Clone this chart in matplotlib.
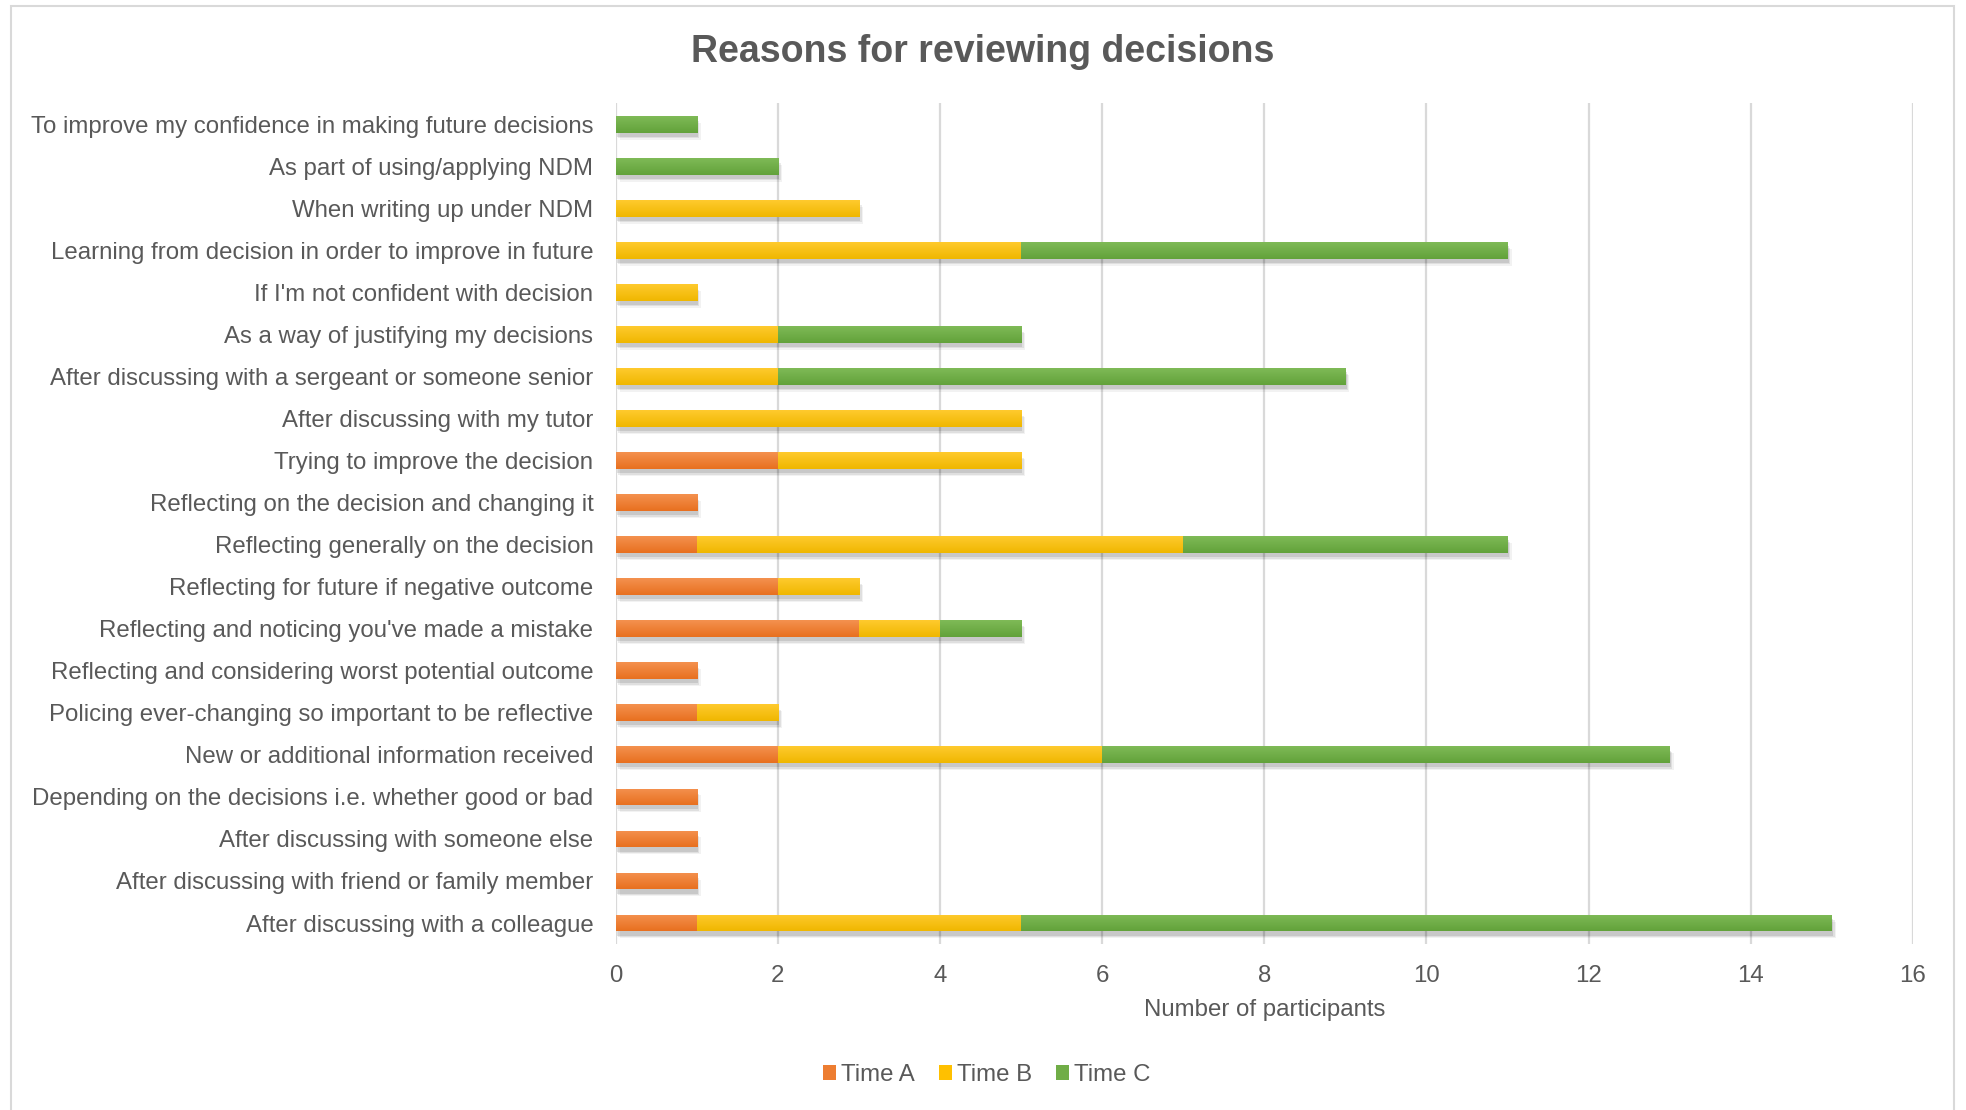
import matplotlib
matplotlib.use('Agg')
import matplotlib.pyplot as plt
import matplotlib.patheffects as pe
from matplotlib.patches import Rectangle, Patch
from matplotlib.colors import LinearSegmentedColormap
import numpy as np

plt.rcParams['font.family'] = ['Liberation Sans', 'DejaVu Sans']

# categories listed bottom to top
reasons = [
    "After discussing with a colleague",
    "After discussing with friend or family member",
    "After discussing with someone else",
    "Depending on the decisions i.e. whether good or bad",
    "New or additional information received",
    "Policing ever-changing so important to be reflective",
    "Reflecting and considering worst potential outcome",
    "Reflecting and noticing you've made a mistake",
    "Reflecting for future if negative outcome",
    "Reflecting generally on the decision",
    "Reflecting on the decision and changing it",
    "Trying to improve the decision",
    "After discussing with my tutor",
    "After discussing with a sergeant or someone senior",
    "As a way of justifying my decisions",
    "If I'm not confident with decision",
    "Learning from decision in order to improve in future",
    "When writing up under NDM",
    "As part of using/applying NDM",
    "To improve my confidence in making future decisions",
]
time_a = [1, 1, 1, 1, 2, 1, 1, 3, 2, 1, 1, 2, 0, 0, 0, 0, 0, 0, 0, 0]
time_b = [4, 0, 0, 0, 4, 1, 0, 1, 1, 6, 0, 3, 5, 2, 2, 1, 5, 3, 0, 0]
time_c = [10, 0, 0, 0, 7, 0, 0, 1, 0, 4, 0, 0, 0, 7, 3, 0, 6, 0, 2, 1]

# name, flat colour, gradient top, gradient bottom
series = [("Time A", time_a, "#ED7D31", "#F4914F", "#E8701F"),
          ("Time B", time_b, "#FFC000", "#FFCA2E", "#EFB700"),
          ("Time C", time_c, "#70AD47", "#7FBA57", "#62A23A")]

txt = "#595959"
grid = "#d9d9d9"
fs = 17.3

fig = plt.figure(figsize=(19.66, 11.10), dpi=100)
ax = fig.add_axes([0.3131, 0.1495, 0.9730 - 0.3131, 0.907 - 0.1495])

# soft drop shadow under each bar segment
shadow = [pe.SimplePatchShadow(offset=(3, -5), shadow_rgbFace='#000000', alpha=0.05),
          pe.SimplePatchShadow(offset=(2, -4), shadow_rgbFace='#000000', alpha=0.08),
          pe.SimplePatchShadow(offset=(1, -3), shadow_rgbFace='#000000', alpha=0.10),
          pe.Normal()]

grad = np.linspace(0, 1, 64).reshape(-1, 1)
h = 0.4
y = np.arange(len(reasons))
left = np.zeros(len(reasons))
for name, vals, col, top, bot in series:
    vals = np.array(vals, dtype=float)
    mask = vals > 0
    bars = ax.barh(y[mask], vals[mask], left=left[mask], height=h, color=col,
                   edgecolor='none', zorder=3)
    cmap = LinearSegmentedColormap.from_list(name, [top, bot])
    for b in bars:
        b.set_path_effects(shadow)
        x0, y0 = b.get_x(), b.get_y()
        im = ax.imshow(grad, cmap=cmap, aspect='auto', origin='upper',
                       extent=[x0, x0 + b.get_width(), y0, y0 + b.get_height()],
                       zorder=4, interpolation='bilinear')
        # origin='upper' with extent bottom<top puts row 0 at the top
        im.set_clip_path(b)
    left += vals

ax.set_xlim(0, 16)
ax.set_ylim(-0.5, len(reasons) - 0.5)
ax.set_xticks(range(0, 17, 2))
ax.set_yticks(y)
ax.set_yticklabels(reasons)
ax.xaxis.grid(True, color=grid, linewidth=1.6, zorder=0)
ax.set_axisbelow(True)
for s in ax.spines.values():
    s.set_visible(False)
ax.tick_params(axis='both', length=0, labelsize=fs, labelcolor=txt)
ax.tick_params(axis='y', pad=16)
ax.tick_params(axis='x', pad=15)

fig.text(0.5, 0.953, "Reasons for reviewing decisions", ha='center', va='center',
         fontsize=27, fontweight='bold', color=txt)
fig.text(0.3131 + (0.9730 - 0.3131) / 2, 0.0905, "Number of participants",
         ha='center', va='center', fontsize=fs, color=txt)

handles = [Patch(facecolor=c, edgecolor='none', label=n) for n, _, c, _, _ in series]
fig.legend(handles=handles, loc='center', bbox_to_anchor=(0.502, 0.0315), ncol=3,
           frameon=False, fontsize=fs, handlelength=0.55, handleheight=0.55,
           handletextpad=0.2, columnspacing=1.0, labelcolor=txt)

# chart area border
fig.patches.append(Rectangle((11 / 1966, -0.05), (1954 - 11) / 1966, 1.05 - 6 / 1110,
                             transform=fig.transFigure, fill=False,
                             edgecolor=grid, linewidth=1.5))

fig.savefig("out.png", dpi=100)
